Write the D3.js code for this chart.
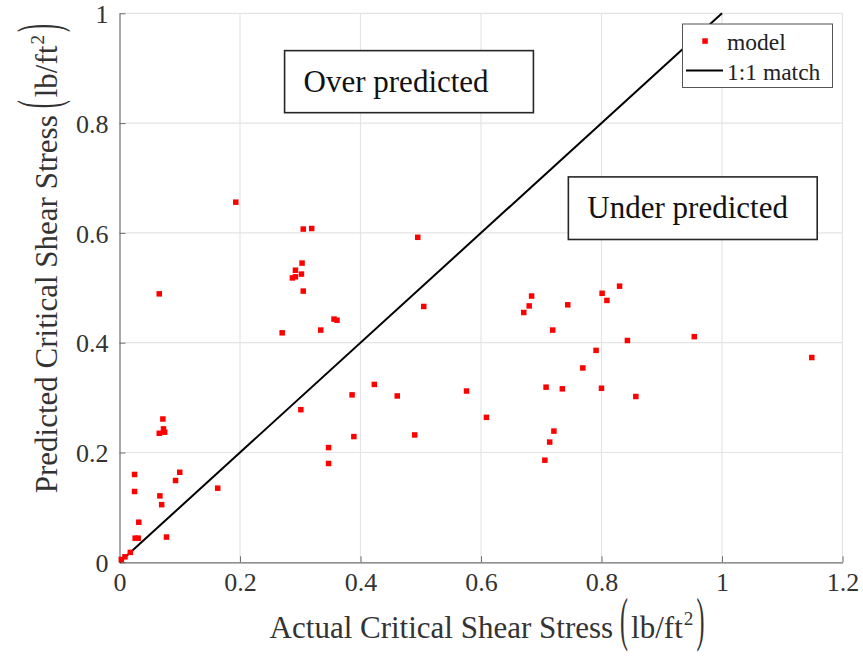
<!DOCTYPE html>
<html><head><meta charset="utf-8">
<script src="https://cdn.jsdelivr.net/npm/d3@7"></script>
</head><body style="margin:0">
<svg id="chart" width="863" height="659" style="display:block;background:#fff"></svg>
<script>
// ---- data ----
const actual = [0.003,0.009,0.018,0.026,0.031,0.032,0.078,0.025,0.025,0.067,0.070,0.093,0.100,0.163,
  0.066,0.075,0.073,0.072,0.066,0.193,0.270,0.287,0.292,0.292,0.302,0.303,0.305,0.305,0.319,0.334,
  0.356,0.361,0.301,0.347,0.347,0.386,0.389,0.423,0.461,0.490,0.495,0.505,0.576,0.609,0.671,0.680,
  0.684,0.706,0.708,0.714,0.719,0.721,0.735,0.744,0.769,0.791,0.800,0.801,0.809,0.830,0.843,0.857,
  0.954,1.149];
const predicted = [0.005,0.010,0.018,0.044,0.044,0.073,0.046,0.129,0.160,0.121,0.105,0.149,0.164,0.135,
  0.235,0.237,0.243,0.261,0.489,0.656,0.418,0.518,0.520,0.532,0.525,0.545,0.494,0.607,0.608,0.423,
  0.443,0.441,0.278,0.209,0.180,0.305,0.229,0.324,0.303,0.232,0.592,0.466,0.312,0.264,0.455,0.467,
  0.485,0.186,0.319,0.219,0.423,0.239,0.316,0.469,0.354,0.386,0.317,0.490,0.477,0.503,0.404,0.302,
  0.411,0.373];
const matchLine = [[0,0],[1,1]];
const xTicks = [0,0.2,0.4,0.6,0.8,1,1.2];
const yTicks = [0,0.2,0.4,0.6,0.8,1];
const xTickLabels = ["0","0.2","0.4","0.6","0.8","1","1.2"];
const yTickLabels = ["0","0.2","0.4","0.6","0.8","1"];
const legendLabels = ["model","1:1 match"];
const annotations = [
  {text:"Over predicted", x0:0.274, x1:0.687, y0:0.932, y1:0.819},
  {text:"Under predicted", x0:0.745, x1:1.158, y0:0.702, y1:0.588}
];

// ---- layout ----
const L=119.5, R=842.5, T=13.3, B=562.3;
const x = d3.scaleLinear().domain([0,1.2]).range([L,R]);
const y = d3.scaleLinear().domain([0,1]).range([B,T]);
const svg = d3.select("#chart");
const FF = "Liberation Serif";
const axisCol = "#6e6e6e", textCol="#333333";

// grid
svg.append("g").selectAll("line").data(xTicks.slice(1)).join("line")
  .attr("x1",d=>x(d)).attr("x2",d=>x(d)).attr("y1",T).attr("y2",B)
  .attr("stroke","#e4e4e4").attr("stroke-width",1.2);
svg.append("g").selectAll("line").data(yTicks.slice(1)).join("line")
  .attr("x1",L).attr("x2",R).attr("y1",d=>y(d)).attr("y2",d=>y(d))
  .attr("stroke","#e4e4e4").attr("stroke-width",1.2);

// axes
const xAxis = d3.axisBottom(x).tickValues(xTicks).tickFormat((d,i)=>xTickLabels[i]).tickSizeInner(-6).tickSizeOuter(0);
const yAxis = d3.axisLeft(y).tickValues(yTicks).tickFormat((d,i)=>yTickLabels[i]).tickSizeInner(-6).tickSizeOuter(0);
const gx = svg.append("g").attr("transform",`translate(0,${B})`).call(xAxis);
const gy = svg.append("g").attr("transform",`translate(${L},0)`).call(yAxis);
[gx,gy].forEach(g=>{
  g.attr("font-family",null).attr("font-size",null);
  g.select(".domain").attr("stroke",axisCol).attr("stroke-width",1.2);
  g.selectAll(".tick line").attr("stroke",axisCol).attr("stroke-width",1);
  g.selectAll(".tick text").attr("fill",textCol).attr("font-family",FF).attr("font-size",26);
});
gx.selectAll(".tick text").attr("y",29).attr("dy",null);
gy.selectAll(".tick text").attr("x",-11).attr("dy","0.35em");

// 1:1 line
const line = d3.line().x(d=>x(d[0])).y(d=>y(d[1]));
svg.append("path").datum(matchLine).attr("d",line).attr("fill","none").attr("stroke","#000").attr("stroke-width",2);

// points
svg.append("g").selectAll("rect").data(actual.map((a,i)=>[a,predicted[i]])).join("rect")
  .attr("x",d=>x(d[0])-2.75).attr("y",d=>y(d[1])-2.75).attr("width",5.5).attr("height",5.5)
  .attr("fill","#ff0000");

// annotation boxes
annotations.forEach(a=>{
  const g = svg.append("g");
  g.append("rect").attr("x",x(a.x0)).attr("y",y(a.y0)).attr("width",x(a.x1)-x(a.x0)).attr("height",y(a.y1)-y(a.y0))
    .attr("fill","#fff").attr("stroke","#262626").attr("stroke-width",1.6);
  g.append("text").attr("x",x(a.x0)+19).attr("y",y(a.y0)+41)
    .attr("font-family",FF).attr("font-size",31).attr("fill","#111").text(a.text);
});

// legend
const lg = svg.append("g");
lg.append("rect").attr("x",682.5).attr("y",24).attr("width",150).attr("height",63.5)
  .attr("fill","#fff").attr("stroke","#555").attr("stroke-width",1);
lg.append("rect").attr("x",702.3).attr("y",38.3).attr("width",5.5).attr("height",5.5).attr("fill","#ff0000");
lg.append("line").attr("x1",686).attr("x2",723).attr("y1",70.5).attr("y2",70.5).attr("stroke","#000").attr("stroke-width",2);
lg.selectAll("text").data(legendLabels).join("text")
  .attr("x",727).attr("y",(d,i)=>i===0?50:80)
  .attr("font-family",FF).attr("font-size",23.5).attr("fill","#222").text(d=>d);

// axis labels with large parentheses
const FS = 31;
function unitLabel(g, main){
  const mk = (sz) => g.append("text").attr("font-family",FF).attr("font-size",sz).attr("fill",textCol);
  const t1 = mk(FS).attr("x",0).attr("y",0).text(main);
  let cx = t1.node().getComputedTextLength() + 7;
  const pfs = 30, sy = 2.0, sx = 0.8;
  const p1 = mk(pfs).attr("transform",`translate(${cx},1) scale(${sx},${sy})`).text("(");
  cx += p1.node().getComputedTextLength()*sx + 3;
  const t2 = mk(FS).attr("x",cx).attr("y",0).text("lb/ft");
  cx += t2.node().getComputedTextLength() + 1;
  const t3 = mk(FS*0.62).attr("x",cx).attr("y",-FS*0.42).text("2");
  cx += t3.node().getComputedTextLength() + 3;
  const p2 = mk(pfs).attr("transform",`translate(${cx},1) scale(${sx},${sy})`).text(")");
  cx += p2.node().getComputedTextLength()*sx;
  return cx;
}
const xl = svg.append("g");
const wx = unitLabel(xl,"Actual Critical Shear Stress");
xl.attr("transform",`translate(${487 - wx/2},638)`);
const yl = svg.append("g");
const wy = unitLabel(yl,"Predicted Critical Shear Stress");
yl.attr("transform",`translate(57,${Math.min(566, 24 + wy)}) rotate(-90)`);
</script>
</body></html>
